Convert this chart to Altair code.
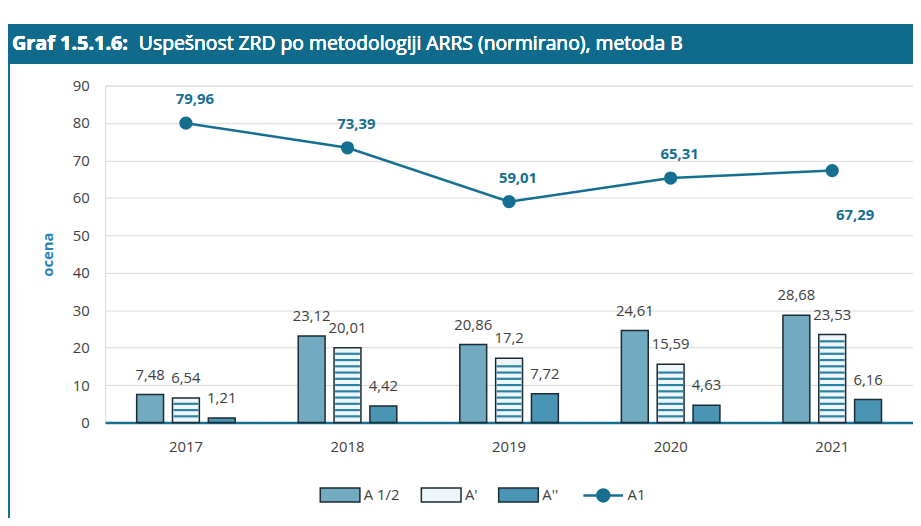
import altair as alt
import pandas as pd

years = ["2017", "2018", "2019", "2020", "2021"]
a_half = [7.48, 23.12, 20.86, 24.61, 28.68]
a_prime = [6.54, 20.01, 17.2, 15.59, 23.53]
a_dprime = [1.21, 4.42, 7.72, 4.63, 6.16]
a1 = [79.96, 73.39, 59.01, 65.31, 67.29]
bar_series = ["A 1/2", "A'", "A''"]
line_series = "A1"
title_bold = "Graf 1.5.1.6:"
title_rest = "Uspešnost ZRD po metodologiji ARRS (normirano), metoda B"
y_title = "ocena"

rows = []
for s, vals in zip(bar_series, [a_half, a_prime, a_dprime]):
    for y, v in zip(years, vals):
        rows.append({"year": y, "series": s, "value": v})
bars_df = pd.DataFrame(rows)
line_df = pd.DataFrame({"year": years, "series": line_series, "value": a1})

# horizontal hatch lines for the A' bars (pattern decoration derived from the bar values)
STRIPE = 1.67
stripe_rows = []
for y, v in zip(years, a_prime):
    k = 1
    while k * STRIPE < v - 0.6:
        stripe_rows.append({"year": y, "series": "A'", "value": k * STRIPE})
        k += 1
stripes_df = pd.DataFrame(stripe_rows)

TEAL = "#166f90"
DARK = "#404040"
FONT = "Open Sans"

label_expr = "replace(toString(datum.value), '.', ',')"

x_scale = alt.Scale(paddingInner=0.39, paddingOuter=0.195)
x_axis = alt.Axis(labelAngle=0, labelFontSize=15, labelColor=DARK, labelFont=FONT,
                  labelPadding=17, ticks=False, domainColor=TEAL, domainWidth=2.5)
y_scale = alt.Scale(domain=[0, 90])
y_axis = alt.Axis(values=list(range(0, 91, 10)), labelFontSize=15, labelColor=DARK,
                  labelFont=FONT, labelPadding=16, ticks=False, domain=False,
                  gridColor="#d9d9d9", gridWidth=1, labelOverlap=False,
                  titleColor="#2a86b5", titleFontSize=15, titleFont=FONT,
                  titleFontWeight="bold", titlePadding=17)


def X():
    return alt.X("year:N", title=None, scale=x_scale, axis=x_axis)


def Y():
    return alt.Y("value:Q", title=y_title, scale=y_scale, axis=y_axis)


def XO():
    return alt.XOffset("series:N", scale=alt.Scale(domain=bar_series, paddingInner=0.25))


fill_scale = alt.Scale(domain=bar_series, range=["#72aac0", "#eef6f9", "#4a95b4"])

bars = alt.Chart(bars_df).mark_bar(stroke="#1b2a33", strokeWidth=1.5).encode(
    x=X(), y=Y(), xOffset=XO(),
    fill=alt.Fill("series:N", scale=fill_scale,
                  legend=alt.Legend(title=None, orient="none", legendX=216, legendY=392,
                                    direction="horizontal",
                                    symbolType="M-1,-0.35H1V0.35H-1Z", symbolSize=1600,
                                    symbolStrokeColor="#1b2a33", symbolStrokeWidth=1.5,
                                    labelFontSize=15, labelColor=DARK, labelFont=FONT,
                                    labelOffset=3, columnPadding=18, padding=0)),
)

stripes = alt.Chart(stripes_df).mark_tick(color="#2a82a3", thickness=2.2, size=25, opacity=1).encode(
    x=X(), y=Y(), xOffset=XO())

bar_labels = alt.Chart(bars_df).mark_text(dy=-12, fontSize=15, color=DARK, font=FONT,
                                          baseline="bottom").encode(
    x=X(), y=Y(), xOffset=XO(),
    text=alt.Text("label:N"),
).transform_calculate(label=label_expr)

line = alt.Chart(line_df).mark_line(strokeWidth=2.5, point=alt.OverlayMarkDef(
    filled=True, size=130, fill=TEAL, stroke=TEAL)).encode(
    x=X(), y=Y(),
    stroke=alt.Stroke("series:N", scale=alt.Scale(domain=[line_series], range=[TEAL]),
                      legend=alt.Legend(title=None, orient="none", legendX=481, legendY=392,
                                        symbolType="M-1,0H-0.3A0.3,0.3,0,1,1,0.3,0H1M0.3,0A0.3,0.3,0,1,1,-0.3,0",
                                        symbolSize=1600, symbolStrokeWidth=2.5,
                                        symbolFillColor=TEAL,
                                        labelFontSize=15, labelColor=DARK, labelFont=FONT,
                                        labelOffset=3, padding=0)),
)

line_labels_above = alt.Chart(line_df).transform_filter(
    "datum.year != '2021'").transform_calculate(label=label_expr).mark_text(
    dy=-24, dx=9, fontSize=15, fontWeight="bold", color=TEAL, font=FONT).encode(
    x=X(), y=Y(), text="label:N")
line_labels_below = alt.Chart(line_df).transform_filter(
    "datum.year == '2021'").transform_calculate(label=label_expr).mark_text(
    dy=45, dx=23, fontSize=15, fontWeight="bold", color=TEAL, font=FONT).encode(
    x=X(), y=Y(), text="label:N")

header = alt.Chart(line_df).mark_rect(color="#0f6a8b").encode(
    x=alt.value(-98), x2=alt.value(815), y=alt.value(-62), y2=alt.value(-22))
left_border = alt.Chart(line_df).mark_rule(color=TEAL, strokeWidth=2).encode(
    x=alt.value(-97), y=alt.value(-22), y2=alt.value(440))
t1 = alt.Chart(line_df).mark_text(text=title_bold, align="left", baseline="middle",
                                  fontSize=20, fontWeight="bold", color="white", font=FONT).encode(
    x=alt.value(-94), y=alt.value(-42))
t2 = alt.Chart(line_df).mark_text(text=title_rest, align="left", baseline="middle",
                                  fontSize=19.5, color="white", font=FONT).encode(
    x=alt.value(34), y=alt.value(-42))

chart = alt.layer(header, left_border, t1, t2, bars, stripes, bar_labels, line,
                  line_labels_above, line_labels_below).resolve_scale(
    fill="independent", stroke="independent"
).properties(
    width=815, height=340,
    autosize=alt.AutoSizeParams(type="none"),
    padding={"left": 98, "top": 76, "right": 0, "bottom": 94},
).configure_view(stroke=TEAL, strokeWidth=2).configure(background="white")

chart.save("out.html", embed_options={"renderer": "svg", "actions": False})
